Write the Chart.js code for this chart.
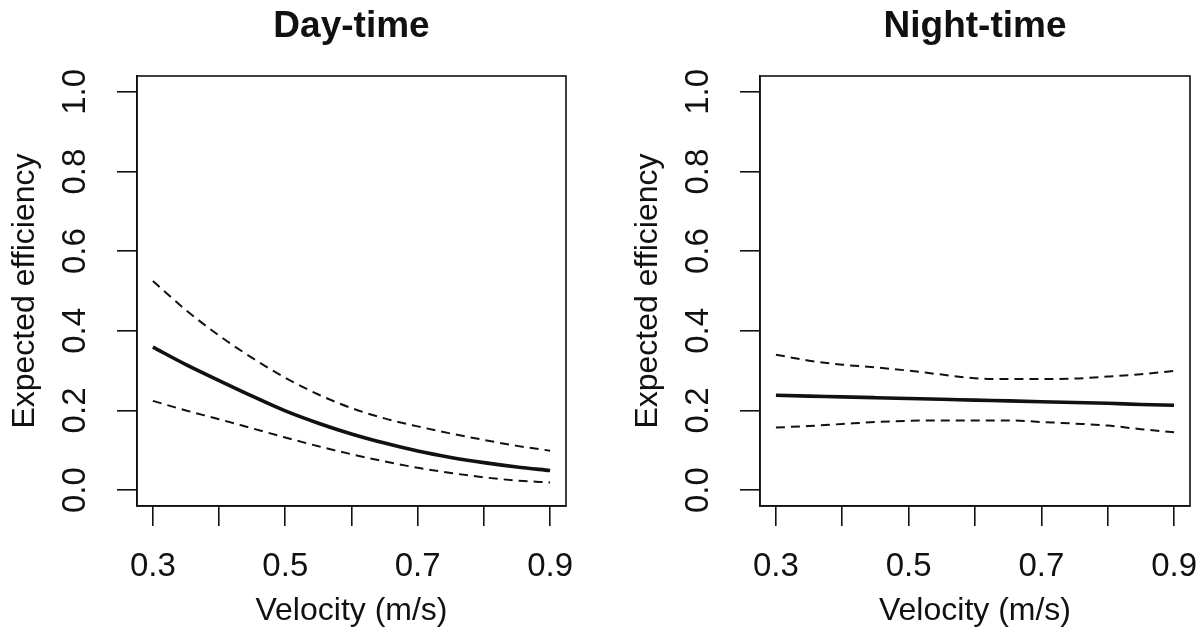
<!DOCTYPE html>
<html>
<head>
<meta charset="utf-8">
<script src="https://cdn.jsdelivr.net/npm/chart.js@4/dist/chart.umd.min.js"></script>
<style>
  html, body { margin: 0; padding: 0; background: #ffffff; }
  #wrap { position: relative; width: 1203px; height: 629px; overflow: hidden; background: #fff; }
  canvas { position: absolute; top: 0; }
  #c1 { left: 0px; }
  #c2 { left: 601px; }
</style>
</head>
<body>
<div id="wrap">
  <canvas id="c1" width="601" height="629"></canvas>
  <canvas id="c2" width="640" height="629"></canvas>
</div>
<script>
// ---- data ----
const velocity   = [0.30, 0.35, 0.40, 0.45, 0.50, 0.55, 0.60, 0.65, 0.70, 0.75, 0.80, 0.85, 0.90];

const dayFit     = [0.359, 0.315, 0.275, 0.236, 0.199, 0.168, 0.141, 0.118, 0.098, 0.082, 0.069, 0.058, 0.049];
const dayUpper   = [0.525, 0.452, 0.388, 0.332, 0.282, 0.240, 0.206, 0.180, 0.160, 0.142, 0.126, 0.111, 0.099];
const dayLower   = [0.224, 0.200, 0.178, 0.155, 0.132, 0.110, 0.090, 0.072, 0.056, 0.043, 0.032, 0.024, 0.019];

const nightFit   = [0.238, 0.236, 0.234, 0.232, 0.230, 0.228, 0.226, 0.224, 0.222, 0.220, 0.218, 0.215, 0.213];
const nightUpper = [0.340, 0.325, 0.315, 0.308, 0.300, 0.290, 0.281, 0.279, 0.279, 0.280, 0.285, 0.291, 0.299];
const nightLower = [0.157, 0.161, 0.166, 0.171, 0.174, 0.175, 0.175, 0.175, 0.171, 0.167, 0.162, 0.153, 0.145];

const xTicks       = [0.3, 0.4, 0.5, 0.6, 0.7, 0.8, 0.9];
const xTickLabels  = [0.3, 0.5, 0.7, 0.9];
const yTicks       = [0.0, 0.2, 0.4, 0.6, 0.8, 1.0];

const panelTitles  = ["Day-time", "Night-time"];
const xTitle = "Velocity (m/s)";
const yTitle = "Expected efficiency";

// ---- styling ----
const FONT = "'Liberation Sans', Arial, Helvetica, sans-serif";
const INK = '#111111';

const boxPlugin = {
  id: 'panelBox',
  afterDraw(chart, args, opts) {
    const {ctx, chartArea: a} = chart;
    ctx.save();
    ctx.strokeStyle = INK;
    ctx.lineWidth = 1.6;
    ctx.strokeRect(a.left, a.top, a.right - a.left, a.bottom - a.top);
    ctx.font = "bold 37px " + FONT;
    ctx.fillStyle = INK;
    ctx.textAlign = 'center';
    ctx.textBaseline = 'alphabetic';
    ctx.fillText(opts.text, (a.left + a.right) / 2, 37);
    ctx.restore();
  }
};

function pts(ys) { return velocity.map((v, i) => ({x: v, y: ys[i]})); }

function makeChart(canvasId, title, fit, upper, lower, padLeft, padRight) {
  const line = (data, dashed) => ({
    data: pts(data),
    borderColor: INK,
    borderWidth: dashed ? 2 : 3.6,
    borderDash: dashed ? [9, 6] : [],
    pointRadius: 0,
    fill: false,
    cubicInterpolationMode: 'monotone'
  });
  return new Chart(document.getElementById(canvasId), {
    type: 'line',
    data: { datasets: [line(upper, true), line(fit, false), line(lower, true)] },
    options: {
      responsive: false,
      animation: false,
      devicePixelRatio: 1,
      layout: { padding: { top: 76, bottom: 0, left: padLeft, right: padRight } },
      plugins: {
        legend: { display: false },
        tooltip: { enabled: false },
        panelBox: { text: title }
      },
      scales: {
        x: {
          type: 'linear',
          min: 0.276, max: 0.924,
          afterBuildTicks: s => { s.ticks = xTicks.map(v => ({value: v})); },
          afterFit: s => { s.height = 123; },
          ticks: {
            color: INK,
            padding: 21,
            maxRotation: 0,
            autoSkip: false,
            font: { family: FONT, size: 33 },
            callback: v => xTickLabels.some(l => Math.abs(l - v) < 1e-9) ? v.toFixed(1) : ''
          },
          grid: { display: true, drawOnChartArea: false, drawTicks: true, tickLength: 20, color: INK, lineWidth: 1.6 },
          border: { display: true, color: INK, width: 1.6 },
          title: { display: true, text: xTitle, color: INK, font: { family: FONT, size: 32, lineHeight: 1.1 }, padding: { top: 0, bottom: 0 } }
        },
        y: {
          type: 'linear',
          min: -0.04, max: 1.04,
          afterBuildTicks: s => { s.ticks = yTicks.map(v => ({value: v})); },
          afterFit: s => { s.width = 137; },
          ticks: {
            color: INK,
            padding: 18,
            minRotation: 90, maxRotation: 90,
            crossAlign: 'center',
            autoSkip: false,
            font: { family: FONT, size: 33 },
            callback: v => v.toFixed(1)
          },
          grid: { display: true, drawOnChartArea: false, drawTicks: true, tickLength: 20, color: INK, lineWidth: 1.6 },
          border: { display: true, color: INK, width: 1.6 },
          title: { display: true, text: yTitle, color: INK, font: { family: FONT, size: 32, lineHeight: 1.1 }, padding: { top: 8, bottom: 0 } }
        }
      }
    },
    plugins: [boxPlugin]
  });
}

makeChart('c1', panelTitles[0], dayFit, dayUpper, dayLower, 0, 35);
makeChart('c2', panelTitles[1], nightFit, nightUpper, nightLower, 22, 51);
</script>
</body>
</html>
